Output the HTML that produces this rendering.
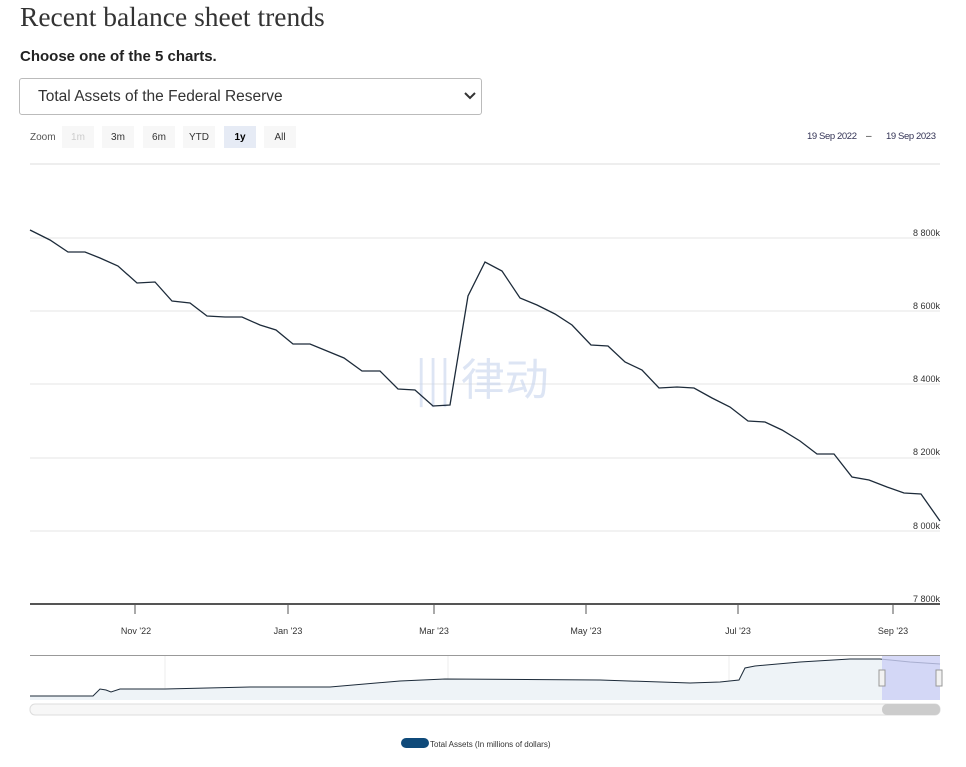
<!DOCTYPE html><html><head><style>
body{margin:0;width:966px;height:767px;background:#fff;font-family:"Liberation Sans",sans-serif;position:relative;overflow:hidden}
.a{position:absolute}
</style></head><body>
<div class="a" style="left:20px;top:1px;font-family:'Liberation Serif',serif;font-size:27.5px;color:#333">Recent balance sheet trends</div>
<div class="a" style="left:20px;top:48px;font-size:15px;font-weight:bold;color:#222">Choose one of the 5 charts.</div>
<div class="a" style="left:19px;top:78px;width:463px;height:37px;border:1px solid #bbb;border-radius:3px;box-sizing:border-box"></div>
<div class="a" style="left:38px;top:88px;font-size:15.5px;color:#333">Total Assets of the Federal Reserve</div>
<svg class="a" style="left:0;top:0" width="966" height="767" font-family="Liberation Sans, sans-serif">
<polyline points="465,93 470,98 475,93" fill="none" stroke="#333" stroke-width="2"/>
<text x="30" y="140" font-size="10" fill="#555">Zoom</text>
<rect x="62" y="126" width="32" height="22" fill="#f7f7f7"/><text x="78" y="140" font-size="10" fill="#ccc" text-anchor="middle">1m</text>
<rect x="102" y="126" width="32" height="22" fill="#f7f7f7"/><text x="118" y="140" font-size="10" fill="#333" text-anchor="middle">3m</text>
<rect x="143" y="126" width="32" height="22" fill="#f7f7f7"/><text x="159" y="140" font-size="10" fill="#333" text-anchor="middle">6m</text>
<rect x="183" y="126" width="32" height="22" fill="#f7f7f7"/><text x="199" y="140" font-size="10" fill="#333" text-anchor="middle">YTD</text>
<rect x="224" y="126" width="32" height="22" fill="#e6ebf5"/><text x="240" y="140" font-size="10" fill="#000" font-weight="bold" text-anchor="middle">1y</text>
<rect x="264" y="126" width="32" height="22" fill="#f7f7f7"/><text x="280" y="140" font-size="10" fill="#333" text-anchor="middle">All</text>
<text x="807" y="139" font-size="9.5" fill="#335" textLength="50">19 Sep 2022</text><text x="866" y="139" font-size="10" fill="#333">–</text><text x="886" y="139" font-size="9.5" fill="#335" textLength="50">19 Sep 2023</text>
<line x1="30" y1="164" x2="940" y2="164" stroke="#eee" stroke-width="2"/>
<g stroke="#e6e6e6"><line x1="30" y1="238" x2="940" y2="238"/><line x1="30" y1="311" x2="940" y2="311"/><line x1="30" y1="384" x2="940" y2="384"/><line x1="30" y1="458" x2="940" y2="458"/><line x1="30" y1="531" x2="940" y2="531"/></g>
<g font-size="9" fill="#333" text-anchor="end"><text x="940" y="236">8 800k</text><text x="940" y="309">8 600k</text><text x="940" y="382">8 400k</text><text x="940" y="455">8 200k</text><text x="940" y="529">8 000k</text><text x="940" y="602">7 800k</text></g>
<text x="482" y="395" font-size="44" fill="#c8d4ee" opacity="0.6" text-anchor="middle" font-family="Noto Sans CJK SC, sans-serif">||| 律动</text>
<line x1="30" y1="604" x2="940" y2="604" stroke="#555" stroke-width="2"/>
<g stroke="#555"><line x1="135" y1="604" x2="135" y2="614"/><line x1="288" y1="604" x2="288" y2="614"/><line x1="434" y1="604" x2="434" y2="614"/><line x1="586" y1="604" x2="586" y2="614"/><line x1="738" y1="604" x2="738" y2="614"/><line x1="893" y1="604" x2="893" y2="614"/></g>
<g font-size="9" fill="#333" text-anchor="middle"><text x="136" y="634">Nov '22</text><text x="288" y="634">Jan '23</text><text x="434" y="634">Mar '23</text><text x="586" y="634">May '23</text><text x="738" y="634">Jul '23</text><text x="893" y="634">Sep '23</text></g>
<polyline fill="none" stroke="#1d2b3a" stroke-width="1.3" points="30,230 50,240 68,252 85,252 100,258 118,266 137,283 155,282 172,301 190,303 207,316 225,317 242,317 260,325 276,330 293,344 310,344 327,351 344,358 362,371 380,371 398,389 415,390 433,406 450,405 468,296 485,262 502,271 520,298 537,305 555,314 572,325 591,345 608,346 625,362 642,370 659,388 677,387 694,388 712,398 730,407 748,421 765,422 782,430 800,441 817,454 834,454 852,477 869,480 887,487 904,493 921,494 940,521"/>
<line x1="30" y1="655.5" x2="940" y2="655.5" stroke="#999"/>
<g stroke="#eee"><line x1="165" y1="656" x2="165" y2="700"/><line x1="448" y1="656" x2="448" y2="700"/><line x1="729" y1="656" x2="729" y2="700"/></g>
<g font-size="8" fill="#aaa"><text x="168" y="696">2010</text><text x="451" y="696">2015</text><text x="732" y="696">2020</text></g>
<path d="M30,696 L93,696 L100,689 L106,690 L111,692 L120,689 L165,689 L250,687 L330,687 L400,681 L445,679 L600,680 L690,683 L720,682 L739,680 L745,668 L755,666 L800,662 L850,659 L880,659 L910,662 L940,664 L940,700 L30,700Z" fill="#eef3f7"/>
<polyline fill="none" stroke="#1d2b3a" stroke-width="1" points="30,696 93,696 100,689 106,690 111,692 120,689 165,689 250,687 330,687 400,681 445,679 600,680 690,683 720,682 739,680 745,668 755,666 800,662 850,659 880,659 910,662 940,664"/>
<rect x="882" y="656" width="58" height="44" fill="#ccd0f5" opacity="0.8"/>
<rect x="879" y="670" width="6" height="16" fill="#f2f2f2" stroke="#999"/><rect x="936" y="670" width="6" height="16" fill="#f2f2f2" stroke="#999"/>
<rect x="30" y="704" width="910" height="11" rx="5" fill="#f7f7f7" stroke="#ddd"/>
<rect x="882" y="704" width="58" height="11" rx="5" fill="#ccc"/>
<rect x="401" y="738" width="28" height="10" rx="5" fill="#0f4a7a"/>
<text x="430" y="747" font-size="8" fill="#333">Total Assets (In millions of dollars)</text>
</svg>
</body></html>
